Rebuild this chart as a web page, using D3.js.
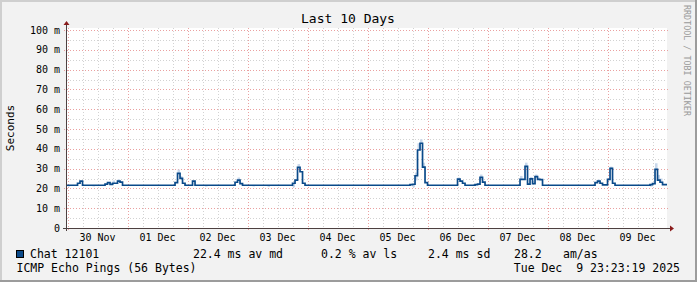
<!DOCTYPE html>
<html lang="en">
<head>
<meta charset="UTF-8">
<title>Last 10 Days</title>
<script src="https://cdn.jsdelivr.net/npm/d3@7"></script>
<style>
body { margin: 0; background: #fff; }
text { font-family: "DejaVu Sans Mono", monospace; white-space: pre; }
</style>
</head>
<body>
<div id="chart"></div>
<script>

// ---- data ----
var titleText = "Last 10 Days";
var unitText = "Seconds";
var seriesName = "Chat 12101";
var probeName = "ICMP Echo Pings (56 Bytes)";
var stampText = "Tue Dec  9 23:23:19 2025";
var legendStats = ["22.4 ms av md", "0.2 % av ls", "2.4 ms sd", "28.2", "am/as"];

var yTicks = [0, 10, 20, 30, 40, 50, 60, 70, 80, 90, 100];
var yTickLabels = ["0", "10 m", "20 m", "30 m", "40 m", "50 m", "60 m", "70 m", "80 m", "90 m", "100 m"];

// hourly median rtt (ms), first value is 29 Nov 23h, then one row per day
var seriesStart = new Date(2025, 10, 29, 23);
var medianMs = [21.6,
  // 30 Nov
  21.6, 21.6, 21.6, 21.6, 22.6, 23.7, 21.6, 21.6, 21.6, 21.6, 21.6, 21.6,
  21.6, 21.6, 21.6, 22.2, 22.9, 22.0, 22.6, 22.6, 23.7, 23.2, 21.6, 21.6,
  // 01 Dec
  21.6, 21.6, 21.6, 21.6, 21.6, 21.6, 21.6, 21.6, 21.6, 21.6, 21.6, 21.6,
  21.6, 21.6, 21.6, 21.6, 21.6, 21.6, 21.6, 22.9, 27.6, 25.1, 22.6, 21.6,
  // 02 Dec
  21.6, 21.6, 23.7, 21.6, 21.6, 21.6, 21.6, 21.6, 21.6, 21.6, 21.6, 21.6,
  21.6, 21.6, 21.6, 21.6, 21.6, 21.6, 21.6, 23.1, 24.2, 22.4, 21.6, 21.6,
  // 03 Dec
  21.6, 21.6, 21.6, 21.6, 21.6, 21.6, 21.6, 21.6, 21.6, 21.6, 21.6, 21.6,
  21.6, 21.6, 21.6, 21.6, 21.6, 21.6, 22.6, 24.2, 30.6, 28.4, 22.6, 21.6,
  // 04 Dec
  21.6, 21.6, 21.6, 21.6, 21.6, 21.6, 21.6, 21.6, 21.6, 21.6, 21.6, 21.6,
  21.6, 21.6, 21.6, 21.6, 21.6, 21.6, 21.6, 21.6, 21.6, 21.6, 21.6, 21.6,
  // 05 Dec
  21.6, 21.6, 21.6, 21.6, 21.6, 21.6, 21.6, 21.6, 21.6, 21.6, 21.6, 21.6,
  21.6, 21.6, 21.6, 21.6, 21.6, 21.9, 22.1, 26.4, 39.4, 42.8, 30.7, 22.9,
  // 06 Dec
  21.6, 21.6, 21.6, 21.6, 21.6, 21.6, 21.6, 21.6, 21.6, 21.6, 21.6, 21.6,
  24.7, 23.7, 22.6, 21.6, 21.6, 21.6, 21.6, 21.9, 22.2, 25.6, 23.2, 21.6,
  // 07 Dec
  21.6, 21.6, 21.6, 21.6, 21.6, 21.6, 21.6, 21.6, 21.6, 21.6, 21.6, 21.6,
  21.6, 24.6, 24.6, 31.1, 22.2, 24.8, 22.4, 25.9, 24.6, 24.4, 21.6, 21.6,
  // 08 Dec
  21.6, 21.6, 21.6, 21.6, 21.6, 21.6, 21.6, 21.6, 21.6, 21.6, 21.6, 21.6,
  21.6, 21.6, 21.6, 21.6, 21.6, 21.6, 21.6, 22.9, 23.7, 22.6, 21.8, 21.8,
  // 09 Dec
  24.6, 30.1, 22.6, 21.6, 21.6, 21.6, 21.6, 21.6, 21.6, 21.6, 21.6, 21.6,
  21.6, 21.6, 21.6, 21.6, 21.6, 21.9, 22.4, 29.6, 24.2, 23.1, 21.9, 21.9
];

// smoke (spread of the pings) where it is visible: day after 30 Nov, hour, low, high
var smokeDay  = [0, 0, 0, 0, 1, 1, 2, 2, 3, 3, 3, 3, 5, 5, 5, 5, 5, 6, 6, 7, 7, 7, 7, 7, 8, 9, 9, 9, 9, 9];
var smokeHour = [0, 10, 18, 20, 20, 21, 7, 20, 2, 8, 18, 20, 18, 19, 20, 21, 22, 12, 21, 13, 15, 17, 19, 20, 20, 1, 17, 19, 20, 21];
var smokeLo   = [20.9, 21.0, 22.6, 23.7, 27.6, 25.1, 20.9, 24.2, 21.0, 20.8, 20.6, 30.6, 20.6, 24.0, 39.4, 42.8, 30.7,
                 24.7, 25.6, 24.6, 31.1, 24.8, 25.9, 24.6, 23.7, 30.1, 20.9, 29.6, 24.2, 23.1];
var smokeHi   = [21.6, 21.6, 24.0, 24.6, 29.5, 26.2, 21.6, 25.5, 21.6, 21.6, 22.6, 32.3, 22.1, 28.0, 42.8, 44.8, 33.0,
                 25.5, 27.0, 26.3, 33.0, 25.8, 27.0, 25.5, 24.5, 31.0, 21.9, 32.7, 26.8, 25.0];

// ---- layout ----
var w = 697, h = 282;
var x0 = 67, x1 = 667, yTop = 28, yBot = 228;
var start = new Date(2025, 10, 29, 23, 23, 19);
var end = new Date(2025, 11, 9, 23, 23, 19);
var firstDay = new Date(2025, 10, 30);

var svg = d3.select("#chart").append("svg")
    .attr("width", w)
    .attr("height", h);

// background + rrd style border
svg.append("rect").attr("width", w).attr("height", h).attr("fill", "#f2f2f2");
svg.append("path").attr("d", "M0,0H697V2H2V282H0Z").attr("fill", "#cfcfcf");
svg.append("path").attr("d", "M697,0V282H0V280H695V0Z").attr("fill", "#9c9c9c");

svg.append("rect")
    .attr("x", x0).attr("y", yTop)
    .attr("width", x1 - x0).attr("height", yBot - yTop)
    .attr("fill", "#ffffff");

var x = d3.scaleTime().domain([start, end]).range([66, 666]);
var y = d3.scaleLinear().domain([0, 100]).range([228, 30]);

// grid
var grid = svg.append("g");
var minorY = d3.range(5, 100, 10);
grid.selectAll(".hmin").data(minorY).enter().append("line")
    .attr("x1", x0).attr("x2", x1)
    .attr("y1", function(d) { return Math.round(y(d)) + 0.5; })
    .attr("y2", function(d) { return Math.round(y(d)) + 0.5; })
    .attr("stroke", "#d2d2d2").attr("stroke-dasharray", "1,2");

var sixHours = d3.timeHour.every(6).range(start, end).filter(function(d) { return d.getHours() !== 0; });
grid.selectAll(".vmin").data(sixHours).enter().append("line")
    .attr("y1", yTop).attr("y2", yBot)
    .attr("x1", function(d) { return Math.round(x(d)) + 0.5; })
    .attr("x2", function(d) { return Math.round(x(d)) + 0.5; })
    .attr("stroke", "#d2d2d2").attr("stroke-dasharray", "1,2");

grid.selectAll(".hmaj").data(yTicks.slice(1)).enter().append("line")
    .attr("x1", x0 - 3).attr("x2", x1 + 2)
    .attr("y1", function(d) { return Math.round(y(d)) + 0.5; })
    .attr("y2", function(d) { return Math.round(y(d)) + 0.5; })
    .attr("stroke", "#eaa0a0").attr("stroke-dasharray", "1,2");

var days = d3.timeDay.range(firstDay, end);
grid.selectAll(".vmaj").data(days).enter().append("line")
    .attr("y1", yTop).attr("y2", yBot + 3)
    .attr("x1", function(d) { return Math.round(x(d)) + 0.5; })
    .attr("x2", function(d) { return Math.round(x(d)) + 0.5; })
    .attr("stroke", "#eaa0a0").attr("stroke-dasharray", "1,2");

// clip for the data
svg.append("clipPath").attr("id", "plot")
    .append("rect").attr("x", x0).attr("y", yTop).attr("width", x1 - x0).attr("height", yBot - yTop);
var plot = svg.append("g").attr("clip-path", "url(#plot)");

// smoke
plot.selectAll(".smoke").data(smokeDay).enter().append("rect")
    .attr("x", function(d, i) { return x(d3.timeHour.offset(firstDay, d * 24 + smokeHour[i])); })
    .attr("width", function(d, i) {
        var t = d3.timeHour.offset(firstDay, d * 24 + smokeHour[i]);
        return x(d3.timeHour.offset(t, 1)) - x(t);
    })
    .attr("y", function(d, i) { return y(smokeHi[i]); })
    .attr("height", function(d, i) { return y(smokeLo[i]) - y(smokeHi[i]); })
    .attr("fill", "#c9d8eb");

// median line
var pts = medianMs.map(function(v, i) { return { t: d3.timeHour.offset(seriesStart, i), v: v }; });
pts.push({ t: d3.timeHour.offset(seriesStart, medianMs.length), v: medianMs[medianMs.length - 1] });

var line = d3.line()
    .x(function(d) { return x(d.t); })
    .y(function(d) { return y(d.v); })
    .curve(d3.curveStepAfter);

plot.append("path")
    .datum(pts)
    .attr("d", line)
    .attr("fill", "none")
    .attr("stroke", "#0b4a8a")
    .attr("stroke-width", 1.7);

// axes
var axisColor = "#4d4040", arrowColor = "#8a1c1c";
svg.append("line").attr("x1", x0 - 4).attr("x2", 670).attr("y1", yBot + 0.5).attr("y2", yBot + 0.5)
    .attr("stroke", axisColor);
svg.append("line").attr("x1", x0 - 0.5).attr("x2", x0 - 0.5).attr("y1", yBot + 3).attr("y2", 25)
    .attr("stroke", axisColor);
svg.append("path").attr("d", "M670,225.5L674,228.5L670,231.5Z").attr("fill", arrowColor);
svg.append("path").attr("d", "M63.5,25L66.5,21L69.5,25Z").attr("fill", arrowColor);

// y labels
svg.selectAll(".ylab").data(yTicks).enter().append("text")
    .attr("x", 60)
    .attr("y", function(d) { return y(d) + 3.5; })
    .attr("text-anchor", "end")
    .attr("font-size", "10px")
    .attr("fill", "#000")
    .text(function(d, i) { return yTickLabels[i]; });

// x labels, centred on noon
var fmt = d3.timeFormat("%d %b");
svg.selectAll(".xlab").data(days).enter().append("text")
    .attr("x", function(d) { return x(d3.timeHour.offset(d, 12)); })
    .attr("y", 241)
    .attr("text-anchor", "middle")
    .attr("font-size", "10px")
    .attr("fill", "#000")
    .text(fmt);

// titles
svg.append("text")
    .attr("x", 348).attr("y", 23)
    .attr("text-anchor", "middle")
    .attr("font-size", "13px")
    .text(titleText);

svg.append("text")
    .attr("transform", "translate(14,128) rotate(-90)")
    .attr("text-anchor", "middle")
    .attr("font-size", "11px")
    .text(unitText);

svg.append("text")
    .attr("transform", "translate(684,5) rotate(90)")
    .attr("font-size", "8.4px")
    .attr("fill", "#9a9a9a")
    .text("RRDTOOL / TOBI OETIKER");

// legend
svg.append("rect")
    .attr("x", 16.5).attr("y", 250.5).attr("width", 7).attr("height", 7)
    .attr("fill", "#0b4a8a").attr("stroke", "#000");

svg.append("text").attr("x", 30).attr("y", 258).attr("font-size", "11.5px").text(seriesName);

var statX = [193, 321, 428, 514, 563];
svg.selectAll(".stat").data(legendStats).enter().append("text")
    .attr("x", function(d, i) { return statX[i]; })
    .attr("y", 258)
    .attr("font-size", "11.5px")
    .text(function(d) { return d; });

svg.append("text").attr("x", 16.5).attr("y", 272).attr("font-size", "11.5px").text(probeName);
svg.append("text").attr("x", 680).attr("y", 272).attr("text-anchor", "end")
    .attr("font-size", "11.5px").text(stampText);

</script>
</body>
</html>
